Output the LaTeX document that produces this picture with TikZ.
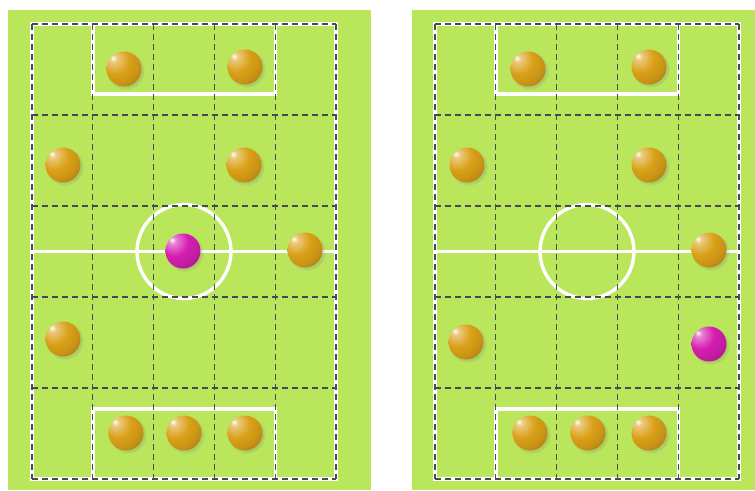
\documentclass[tikz,border=0pt]{standalone}
\usepackage{tikz}
\usepackage{xcolor}
\usetikzlibrary{shadows}
\definecolor{pitchgreen}{RGB}{186, 230, 92}
\definecolor{ballgold}{RGB}{218, 160, 24}
\definecolor{ballpink}{RGB}{214, 30, 176}
\definecolor{gridgray}{RGB}{72, 72, 84}

% Sombreado de las bolas, brillo arriba a la izquierda
\pgfdeclareradialshading{goldsphere}{\pgfpoint{-16bp}{16bp}}{%
	color(0bp)=(white); color(5bp)=(ballgold!55!white); color(20bp)=(ballgold);
	color(32bp)=(ballgold!92!black); color(50bp)=(ballgold!68!black); color(68bp)=(ballgold!40!black); color(100bp)=(ballgold!40!black)}
\pgfdeclareradialshading{pinksphere}{\pgfpoint{-16bp}{16bp}}{%
	color(0bp)=(white); color(5bp)=(ballpink!55!white); color(20bp)=(ballpink);
	color(32bp)=(ballpink!92!black); color(50bp)=(ballpink!68!black); color(68bp)=(ballpink!40!black); color(100bp)=(ballpink!40!black)}

\begin{document}
\begin{tikzpicture}[x=1pt, y=-1pt,
		pitchline/.style={white, line width=3.4pt},
		gridline/.style={gridgray, line width=1.2pt, dash pattern=on 6pt off 4pt},
		ball/.style={circle, minimum size=35pt, inner sep=0pt,
			circular drop shadow={shadow xshift=1.5pt, shadow yshift=-1.5pt, opacity=0.25}},
		goldball/.style={ball, shading=goldsphere},
		pinkball/.style={ball, shading=pinksphere}]
		\useasboundingbox (0,0) rectangle (755,490);
		
		% Cesped
		\fill[pitchgreen] (8,10) rectangle (371,490);
		\fill[pitchgreen] (412,10) rectangle (755,490);
		
		% Lineas de los dos campos
		\foreach \ox in {32,435} {
			\begin{scope}[shift={(\ox,24)}]
				\draw[pitchline] (0,0) rectangle (304,455);
				\draw[pitchline] (0,227.5) -- (304,227.5);
				\draw[pitchline] (152,227.5) circle (47);
				\draw[pitchline] (60.8,0) rectangle (243.2,70);
				\draw[pitchline] (60.8,385) rectangle (243.2,455);
				% Cuadricula
				\foreach \gx in {0,60.8,121.6,182.4,243.2,304}
					\draw[gridline] (\gx,0) -- (\gx,455);
				\foreach \gy in {0,91,182,273,364,455}
					\draw[gridline] (0,\gy) -- (304,\gy);
			\end{scope}
		}
		
		% Campo izquierdo
		\node[goldball] (a1) at (124,69) {};
		\node[goldball] (a2) at (245,67) {};
		\node[goldball] (a3) at (63,165) {};
		\node[goldball] (a4) at (244,165) {};
		\node[pinkball] (a5) at (183,251) {};
		\node[goldball] (a6) at (305,250) {};
		\node[goldball] (a7) at (63,339) {};
		\node[goldball] (a8) at (126,433) {};
		\node[goldball] (a9) at (184,433) {};
		\node[goldball] (a10) at (245,433) {};
		
		% Campo derecho
		\node[goldball] (b1) at (528,69) {};
		\node[goldball] (b2) at (649,67) {};
		\node[goldball] (b3) at (467,165) {};
		\node[goldball] (b4) at (649,165) {};
		\node[goldball] (b5) at (709,250) {};
		\node[goldball] (b6) at (466,342) {};
		\node[pinkball] (b7) at (709,344) {};
		\node[goldball] (b8) at (530,433) {};
		\node[goldball] (b9) at (588,433) {};
		\node[goldball] (b10) at (649,433) {};
	\end{tikzpicture}
\end{document}
